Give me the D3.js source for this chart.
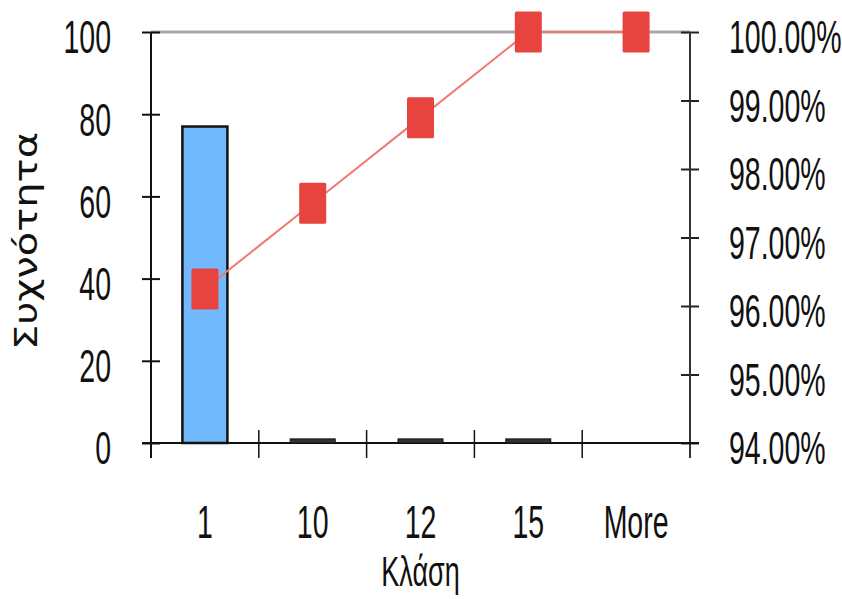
<!DOCTYPE html>
<html>
<head>
<meta charset="utf-8">
<script src="https://cdn.jsdelivr.net/npm/d3@7"></script>
<style>
  body { margin: 0; background: #fff; }
  text { font-family: "Liberation Sans", Arial, sans-serif; fill: #111; }
</style>
</head>
<body>
<div id="chart"></div>
<script>
const categories = ["1", "10", "12", "15", "More"];
const frequency = [77, 1, 1, 1, 0];
const cumulative = [0.9625, 0.975, 0.9875, 1.0, 1.0];
const leftTicks = [0, 20, 40, 60, 80, 100];
const rightTicks = [0.94, 0.95, 0.96, 0.97, 0.98, 0.99, 1.0];

const width = 842;
const height = 599;
const margin = { top: 32, right: 152, bottom: 156, left: 151 };
const stretch = 1.6; // glyphs in the reference are tall and narrow
const fontSize = 28.5;

const svg = d3.select("#chart")
    .append("svg")
    .attr("width", width)
    .attr("height", height);

svg.append("rect").attr("width", width).attr("height", height).attr("fill", "#fff");

const x = d3.scaleBand()
    .domain(categories)
    .range([margin.left, width - margin.right])
    .padding(0);
const yLeft = d3.scaleLinear()
    .domain([0, 100])
    .range([height - margin.bottom, margin.top]);
const yRight = d3.scaleLinear()
    .domain([0.94, 1.0])
    .range([height - margin.bottom, margin.top]);

const x0 = x.range()[0], x1 = x.range()[1];
const yBase = yLeft(0), yTop = yLeft(100);

// top border of plot area
svg.append("line")
    .attr("x1", x0).attr("x2", x1)
    .attr("y1", yTop).attr("y2", yTop)
    .attr("stroke", "#a8a8a8")
    .attr("stroke-width", 3);

function styleTicks(sel, ty) {
    sel.selectAll("text")
        .attr("dy", null)
        .attr("y", ty)
        .style("font-size", fontSize + "px")
        .attr("transform", `scale(1,${stretch})`);
}

// left axis
const gLeft = svg.append("g")
    .attr("transform", `translate(${x0},0)`)
    .call(d3.axisLeft(yLeft).tickValues(leftTicks).tickSize(9).tickPadding(31));
gLeft.select(".domain").remove();
gLeft.selectAll(".tick line").attr("x1", 9).attr("stroke", "#111").attr("stroke-width", 2);
styleTicks(gLeft, 13);
gLeft.append("line")
    .attr("y1", yTop).attr("y2", yBase + 15)
    .attr("stroke", "#111").attr("stroke-width", 2);

// right axis
const gRight = svg.append("g")
    .attr("transform", `translate(${x1},0)`)
    .call(d3.axisRight(yRight).tickValues(rightTicks).tickSize(9).tickPadding(30)
        .tickFormat(d3.format(".2%")));
gRight.select(".domain").remove();
gRight.selectAll(".tick line").attr("x1", -9).attr("stroke", "#222").attr("stroke-width", 2);
styleTicks(gRight, 13);
gRight.append("line")
    .attr("y1", yTop).attr("y2", yBase + 15)
    .attr("stroke", "#333").attr("stroke-width", 2);

// bottom axis
const gBottom = svg.append("g")
    .attr("transform", `translate(0,${yBase})`)
    .call(d3.axisBottom(x).tickSize(0));
gBottom.select(".domain").remove();
styleTicks(gBottom, 95 / stretch);
gBottom.append("line")
    .attr("x1", x0 - 9).attr("x2", x1 + 9)
    .attr("stroke", "#111").attr("stroke-width", 2);
gBottom.selectAll("line.sep")
    .data(categories.slice(1).map(c => x(c)))
    .enter()
    .append("line")
    .attr("class", "sep")
    .attr("x1", d => d).attr("x2", d => d)
    .attr("y1", -13).attr("y2", 15)
    .attr("stroke", "#111").attr("stroke-width", 1.5);

// bars
const barW = 45;
svg.append("g")
    .selectAll("rect")
    .data(categories.map((c, i) => ({ c, v: frequency[i] })).filter(d => d.v > 0))
    .enter()
    .append("rect")
    .attr("x", d => x(d.c) + (x.bandwidth() - barW) / 2)
    .attr("y", d => yLeft(d.v))
    .attr("width", barW)
    .attr("height", d => yLeft(0) - yLeft(d.v))
    .attr("fill", d => d.v > 2 ? "#72b8fd" : "#333")
    .attr("stroke", "#111")
    .attr("stroke-width", d => d.v > 2 ? 2.5 : 1);

// cumulative line
const points = categories.map((c, i) => ({ c, v: cumulative[i] }));
svg.append("path")
    .datum(points)
    .attr("fill", "none")
    .attr("stroke", "#f07a76")
    .attr("stroke-width", 2)
    .attr("d", d3.line().x(d => x(d.c) + x.bandwidth() / 2).y(d => yRight(d.v)));

const mW = 27, mH = 41;
svg.append("g")
    .selectAll("rect")
    .data(points)
    .enter()
    .append("rect")
    .attr("x", d => x(d.c) + x.bandwidth() / 2 - mW / 2)
    .attr("y", d => yRight(d.v) - mH / 2)
    .attr("width", mW)
    .attr("height", mH)
    .attr("rx", 1.5)
    .attr("fill", "#e8443f");

// axis titles
svg.append("text")
    .attr("transform", `translate(${(x0 + x1) / 2},586) scale(1,${stretch})`)
    .attr("text-anchor", "middle")
    .style("font-size", "27px")
    .text("Κλάση");

svg.append("text")
    .attr("transform", `translate(37,241) rotate(-90)`)
    .attr("text-anchor", "middle")
    .attr("textLength", 218)
    .attr("lengthAdjust", "spacingAndGlyphs")
    .style("font-family", "'DejaVu Sans', sans-serif")
    .style("font-size", "32px")
    .text("Συχνότητα");
</script>
</body>
</html>
